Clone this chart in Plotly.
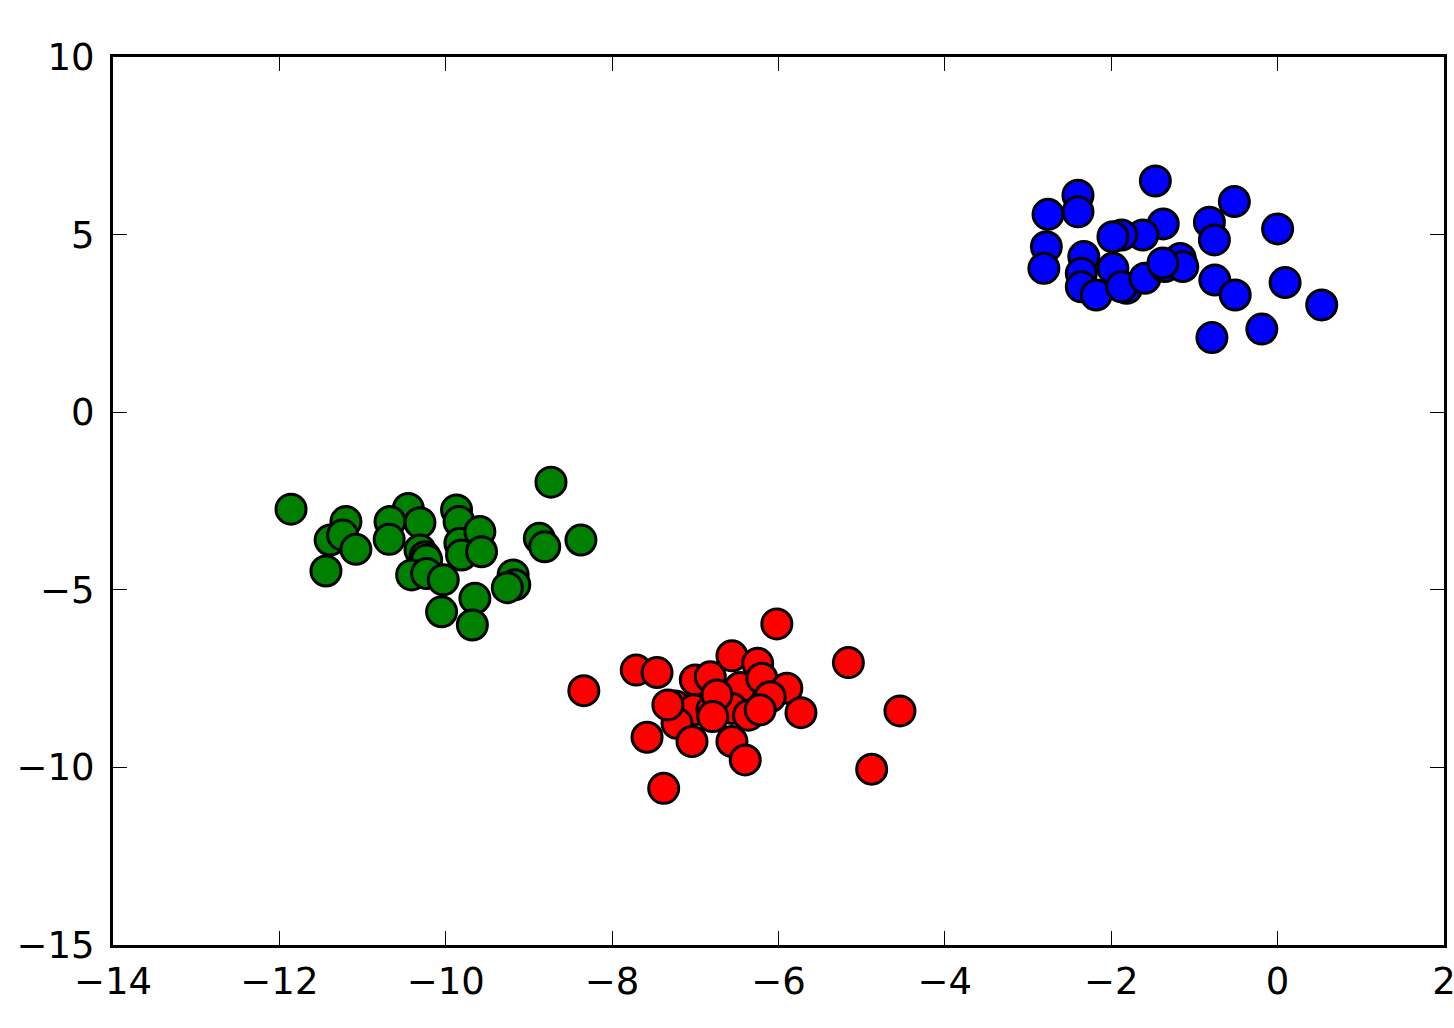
import plotly.graph_objects as go

blue_x = [-1.47, -2.40, -2.40, -2.76, -0.52, 0.00, -0.82, -0.76, -1.375, -1.62, -1.875, -1.98,
          -2.78, -2.81, -2.33, -2.36, -2.36, -2.18, -1.98, -1.815, -1.875, -1.595, -1.355, -1.17,
          -1.14, -0.755, -0.51, 0.09, 0.53, -0.19, -0.79, -1.38]
blue_y = [6.51, 6.11, 5.64, 5.57, 5.93, 5.16, 5.35, 4.85, 5.30, 4.99, 4.99, 4.94,
          4.66, 4.05, 4.38, 3.91, 3.53, 3.30, 4.05, 3.49, 3.53, 3.77, 4.10, 4.33,
          4.10, 3.72, 3.30, 3.65, 3.02, 2.34, 2.10, 4.20]

green_x = [-11.86, -8.735, -11.20, -11.39, -11.24, -11.08, -11.44, -10.45, -10.67, -10.68, -10.31,
           -10.31, -10.25, -10.23, -10.41, -10.23, -10.03, -10.05, -9.87, -9.84, -9.83, -9.81,
           -9.59, -9.57, -9.65, -9.68, -9.19, -9.17, -9.26, -8.875, -8.81, -8.375]
green_y = [-2.73, -1.97, -3.08, -3.60, -3.46, -3.86, -4.47, -2.71, -3.08, -3.58, -3.11,
           -3.88, -4.07, -4.16, -4.58, -4.54, -4.72, -5.62, -2.75, -3.08, -3.69, -4.02,
           -3.36, -3.93, -5.24, -5.99, -4.58, -4.86, -4.94, -3.55, -3.79, -3.60]

red_x = [-6.02, -5.16, -8.34, -7.71, -7.46, -7.00, -6.82, -6.56, -6.25, -6.46, -6.20, -5.90,
         -6.10, -5.73, -4.54, -4.88, -7.24, -7.02, -6.80, -6.56, -6.36, -7.22, -7.04, -7.58,
         -6.56, -6.40, -7.38, -7.33, -6.74, -6.22, -6.79]
red_y = [-5.96, -7.05, -7.84, -7.26, -7.33, -7.54, -7.45, -6.86, -7.07, -7.75, -7.49, -7.77,
         -8.01, -8.46, -8.41, -10.05, -8.27, -8.38, -8.38, -8.34, -8.53, -8.76, -9.27, -9.15,
         -9.27, -9.79, -10.59, -8.24, -7.96, -8.38, -8.57]

x_ticks = [-14, -12, -10, -8, -6, -4, -2, 0, 2]
y_ticks = [-15, -10, -5, 0, 5, 10]

fig = go.Figure()
for xs, ys, col in [(red_x, red_y, "#ff0000"), (blue_x, blue_y, "#0000ff"), (green_x, green_y, "#008000")]:
    fig.add_trace(go.Scatter(
        x=xs, y=ys, mode="markers",
        marker=dict(size=30, color=col, line=dict(color="black", width=3)),
        showlegend=False, cliponaxis=False,
    ))

axis_common = dict(
    showgrid=False, zeroline=False, automargin=False,
    showline=True, linecolor="black", linewidth=3, mirror="ticks",
    ticks="inside", ticklen=14, tickwidth=1, tickcolor="black",
    tickfont=dict(family="DejaVu Sans", size=37, color="black"),
    ticklabeloverflow="allow",
)

fig.update_xaxes(range=[-14, 2], tickvals=x_ticks,
                 ticktext=[str(v).replace("-", "\u2212") for v in x_ticks],
                 ticklabelstandoff=2, **axis_common)
fig.update_yaxes(range=[-15, 10], tickvals=y_ticks,
                 ticktext=[str(v).replace("-", "\u2212") for v in y_ticks],
                 ticklabelstandoff=8, **axis_common)

fig.update_layout(
    width=1454, height=1028,
    margin=dict(l=113, r=10, t=57, b=83, pad=0, autoexpand=False),
    paper_bgcolor="white", plot_bgcolor="white",
)

fig.write_html(
    "out.html",
    config={"displayModeBar": False},
    post_script="document.body.style.margin='0';document.body.style.overflow='hidden';",
)
